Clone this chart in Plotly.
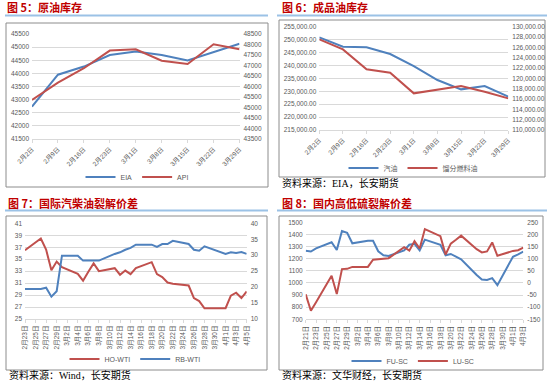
import plotly.graph_objects as go

W, H = 550, 386

# ---------------- data ----------------
week_cats = ["2月2日", "2月9日", "2月16日", "2月23日", "3月1日", "3月8日", "3月15日", "3月22日", "3月29日"]
eia = [42730, 43950, 44260, 44700, 44830, 44700, 44490, 44800, 45130]
api = [45360, 46180, 46870, 47710, 47770, 47230, 47070, 48010, 47770]

gasoline = [250870, 247260, 247000, 244420, 239770, 234350, 230740, 232030, 227900]
distillate = [127550, 125610, 121740, 121100, 117100, 117870, 118520, 117420, 116130]

crack_dates = ["2024-02-23", "2024-02-26", "2024-02-27", "2024-02-28", "2024-02-29", "2024-03-01",
               "2024-03-04", "2024-03-05", "2024-03-06", "2024-03-07", "2024-03-08",
               "2024-03-11", "2024-03-12", "2024-03-13", "2024-03-14", "2024-03-15",
               "2024-03-18", "2024-03-19", "2024-03-20", "2024-03-21", "2024-03-22",
               "2024-03-25", "2024-03-26", "2024-03-27", "2024-03-28",
               "2024-04-01", "2024-04-02", "2024-04-03", "2024-04-04", "2024-04-05"]
ho_wti = [36.5, 38.45, 36.6, 33.15, 34.6, 33.65, 32.55, 31.4, 32.9, 34.3, 33.0, 33.5, 32.4, 33.1, 32.5,
          33.5, 34.5, 32.5, 32.0, 31.1, 30.9, 30.6, 28.5, 28.0, 26.8, 26.8, 28.9, 29.4, 28.5, 29.6]
rb_wti = [19.4, 19.4, 19.8, 17.0, 18.7, 29.85, 29.85, 28.3, 28.3, 28.4, 28.3, 30.4, 30.9, 31.7, 32.3,
          33.3, 33.3, 32.6, 33.5, 33.5, 34.5, 33.5, 31.7, 31.4, 32.8, 30.4, 30.9, 30.7, 31.0, 30.4]
crack_tick_vals = ["2024-02-23", "2024-02-25", "2024-02-27", "2024-02-29", "2024-03-02", "2024-03-04",
                   "2024-03-06", "2024-03-08", "2024-03-10", "2024-03-12", "2024-03-14", "2024-03-16",
                   "2024-03-18", "2024-03-20", "2024-03-22", "2024-03-24", "2024-03-26", "2024-03-28",
                   "2024-03-30", "2024-04-01", "2024-04-03", "2024-04-05"]
crack_tick_text = ["2月23日", "2月25日", "2月27日", "2月29日", "3月2日", "3月4日", "3月6日", "3月8日",
                   "3月10日", "3月12日", "3月14日", "3月16日", "3月18日", "3月20日", "3月22日", "3月24日",
                   "3月26日", "3月28日", "3月30日", "4月1日", "4月3日", "4月5日"]

sc_dates = ["2024-02-21", "2024-02-22", "2024-02-23", "2024-02-26", "2024-02-27", "2024-02-28",
            "2024-02-29", "2024-03-01", "2024-03-04", "2024-03-05", "2024-03-06", "2024-03-07",
            "2024-03-08", "2024-03-11", "2024-03-12", "2024-03-13", "2024-03-14", "2024-03-15",
            "2024-03-18", "2024-03-19", "2024-03-20", "2024-03-21", "2024-03-22", "2024-03-25",
            "2024-03-26", "2024-03-27", "2024-03-28", "2024-03-29", "2024-04-01", "2024-04-02",
            "2024-04-03"]
fu_sc = [1266, 1259, 1285, 1335, 1272, 1428, 1414, 1327, 1347, 1348, 1261, 1228, 1222, 1268, 1315, 1323,
         1269, 1357, 1315, 1228, 1239, 1215, 1194, 1066, 1028, 1024, 1040, 982, 1216, 1236, 1258]
lu_sc = [-47, -115, -80, 30, -46, 57, 58, 66, 66, 96, 98, 99, 102, 147, 133, 172, 142, 222, 193, 117,
         162, 178, 195, 139, 126, 130, 167, 112, 132, 135, 146]
sc_tick_vals = ["2024-02-21", "2024-02-23", "2024-02-25", "2024-02-27", "2024-02-29", "2024-03-02",
                "2024-03-04", "2024-03-06", "2024-03-08", "2024-03-10", "2024-03-12", "2024-03-14",
                "2024-03-16", "2024-03-18", "2024-03-20", "2024-03-22", "2024-03-24", "2024-03-26",
                "2024-03-28", "2024-03-30", "2024-04-01", "2024-04-03"]
sc_tick_text = ["2月21日", "2月23日", "2月25日", "2月27日", "2月29日", "3月2日", "3月4日", "3月6日",
                "3月8日", "3月10日", "3月12日", "3月14日", "3月16日", "3月18日", "3月20日", "3月22日",
                "3月24日", "3月26日", "3月28日", "3月30日", "4月1日", "4月3日"]
lu_tick_vals = [-150, -100, -50, 0, 50, 100, 150, 200, 250]
lu_tick_text = ["-150", "-100", "-50", "0", "50", "100", "150", "200", "250"]

# ---------------- style ----------------
BLUE = "#4F81BD"
RED = "#C0504D"
GRID = "#D9D9D9"
TICK = "#595959"
FONT = "Liberation Sans, Noto Sans CJK SC, sans-serif"
tickfont = dict(family=FONT, size=6.5, color=TICK)


def px(x):
    return x / W


def py(y):
    return 1 - y / H


fig = go.Figure()
line_w = 2

fig.add_trace(go.Scatter(x=week_cats, y=eia, name="EIA", mode="lines", line=dict(color=BLUE, width=line_w),
                         xaxis="x", yaxis="y", legend="legend"))
fig.add_trace(go.Scatter(x=week_cats, y=api, name="API", mode="lines", line=dict(color=RED, width=line_w),
                         xaxis="x", yaxis="y2", legend="legend"))

fig.add_trace(go.Scatter(x=week_cats, y=gasoline, name="汽油", mode="lines", line=dict(color=BLUE, width=line_w),
                         xaxis="x2", yaxis="y3", legend="legend2"))
fig.add_trace(go.Scatter(x=week_cats, y=distillate, name="馏分燃料油", mode="lines",
                         line=dict(color=RED, width=line_w), xaxis="x2", yaxis="y4", legend="legend2"))

fig.add_trace(go.Scatter(x=crack_dates, y=ho_wti, name="HO-WTI", mode="lines", line=dict(color=RED, width=line_w),
                         xaxis="x3", yaxis="y5", legend="legend3"))
fig.add_trace(go.Scatter(x=crack_dates, y=rb_wti, name="RB-WTI", mode="lines", line=dict(color=BLUE, width=line_w),
                         xaxis="x3", yaxis="y6", legend="legend3"))

fig.add_trace(go.Scatter(x=sc_dates, y=fu_sc, name="FU-SC", mode="lines", line=dict(color=BLUE, width=line_w),
                         xaxis="x4", yaxis="y7", legend="legend4"))
fig.add_trace(go.Scatter(x=sc_dates, y=lu_sc, name="LU-SC", mode="lines", line=dict(color=RED, width=line_w),
                         xaxis="x4", yaxis="y8", legend="legend4"))

xcommon = dict(showgrid=False, zeroline=False, showline=True, linecolor=GRID, linewidth=1,
               ticks="outside", ticklen=3, tickcolor=GRID, tickfont=tickfont, automargin=False, fixedrange=True)
yleft = dict(showgrid=True, gridcolor=GRID, gridwidth=0.75, zeroline=False, showline=False, ticks="",
             tickfont=tickfont, automargin=False, ticklabelstandoff=2)
yright = dict(showgrid=False, zeroline=False, showline=False, ticks="", tickfont=tickfont,
              automargin=False, side="right", ticklabelstandoff=3)

layout = dict(
    width=W, height=H, margin=dict(l=0, r=0, t=0, b=0), autosize=False,
    paper_bgcolor="white", plot_bgcolor="white", template="none",
    font=dict(family=FONT, size=7, color=TICK),
    # chart 5
    xaxis=dict(xcommon, domain=[px(32), px(239.5)], type="category", range=[0, 8], anchor="y", tickangle=-45),
    yaxis=dict(yleft, domain=[py(139), py(34)], range=[41500, 45500], dtick=500, tickformat="d", anchor="x"),
    yaxis2=dict(yright, overlaying="y", anchor="x", range=[43500, 48500], dtick=500, tickformat="d"),
    # chart 6
    xaxis2=dict(xcommon, domain=[px(319.3), px(508.3)], type="category", range=[0, 8], anchor="y3", tickangle=-45),
    yaxis3=dict(yleft, domain=[py(130), py(26.7)], range=[215000, 255000], dtick=5000, tickformat=",.2f",
                anchor="x2"),
    yaxis4=dict(yright, overlaying="y3", anchor="x2", range=[110000, 130000], dtick=2000, tickformat=",.2f"),
    # chart 7
    xaxis3=dict(xcommon, domain=[px(25), px(246.7)], type="date", range=["2024-02-23", "2024-04-05"],
                anchor="y5", tickangle=-90, tickmode="array", tickvals=crack_tick_vals, ticktext=crack_tick_text),
    yaxis5=dict(yleft, domain=[py(319), py(223.3)], range=[25, 41], tick0=25, dtick=2, anchor="x3"),
    yaxis6=dict(yright, overlaying="y5", anchor="x3", range=[10, 40], tick0=10, dtick=5),
    # chart 8
    xaxis4=dict(xcommon, domain=[px(305.7), px(523.3)], type="date", range=["2024-02-21", "2024-04-03"],
                anchor="y7", tickangle=-90, tickmode="array", tickvals=sc_tick_vals, ticktext=sc_tick_text),
    yaxis7=dict(yleft, domain=[py(319.3), py(222.3)], range=[700, 1500], dtick=100, anchor="x4"),
    yaxis8=dict(yright, overlaying="y7", anchor="x4", range=[-150, 250], tickmode="array",
                tickvals=lu_tick_vals, ticktext=lu_tick_text),
)

legend_common = dict(orientation="h", xanchor="center", yanchor="middle", bgcolor="rgba(0,0,0,0)",
                     font=dict(family=FONT, size=7, color=TICK), itemwidth=30, tracegroupgap=0)
layout["legend"] = dict(legend_common, x=px(137), y=py(177))
layout["legend2"] = dict(legend_common, x=px(413), y=py(168))
layout["legend3"] = dict(legend_common, x=px(135), y=py(359))
layout["legend4"] = dict(legend_common, x=px(413), y=py(361))

fig.update_layout(**layout)

# frames, title rules
shapes = []
for (x0, y0, x1, y1) in [(6, 23, 268, 187), (279, 20, 545, 177), (6, 216, 267, 370), (279, 216, 543, 370)]:
    shapes.append(dict(type="rect", xref="paper", yref="paper", x0=px(x0), y0=py(y0), x1=px(x1), y1=py(y1),
                       line=dict(color="#8C8C8C", width=1), fillcolor="rgba(0,0,0,0)", layer="below"))
for (x0, x1, y) in [(5, 268, 15.5), (277, 547, 15.5), (5, 268, 210.5), (277, 547, 210.5)]:
    shapes.append(dict(type="line", xref="paper", yref="paper", x0=px(x0), x1=px(x1), y0=py(y), y1=py(y),
                       line=dict(color="#9BC2E6", width=2)))
fig.update_layout(shapes=shapes)

TITLE_FONT = dict(family="Noto Sans CJK SC, sans-serif", size=11, color="#C00000")
SRC_FONT = dict(family="Liberation Serif, Noto Sans CJK SC, serif", size=10, color="#000000")
annotations = []
for (txt, x, y) in [("<b>图 5：原油库存</b>", 5, 7.5), ("<b>图 6：成品油库存</b>", 280, 7.5),
                    ("<b>图 7：国际汽柴油裂解价差</b>", 6, 202.5), ("<b>图 8：国内高低硫裂解价差</b>", 280, 202.5)]:
    annotations.append(dict(text=txt, x=px(x), y=py(y), xref="paper", yref="paper", xanchor="left",
                            yanchor="middle", showarrow=False, font=TITLE_FONT))
for (txt, x, y) in [("资料来源：EIA，长安期货", 280, 182.5), ("资料来源：Wind，长安期货", 7, 375),
                    ("资料来源：文华财经，长安期货", 280, 375)]:
    annotations.append(dict(text=txt, x=px(x), y=py(y), xref="paper", yref="paper", xanchor="left",
                            yanchor="middle", showarrow=False, font=SRC_FONT))
fig.update_layout(annotations=annotations)

fig.write_html("out.html", config={"responsive": False, "displayModeBar": False},
               post_script="document.body.style.margin='0px';document.body.style.overflow='hidden';")
